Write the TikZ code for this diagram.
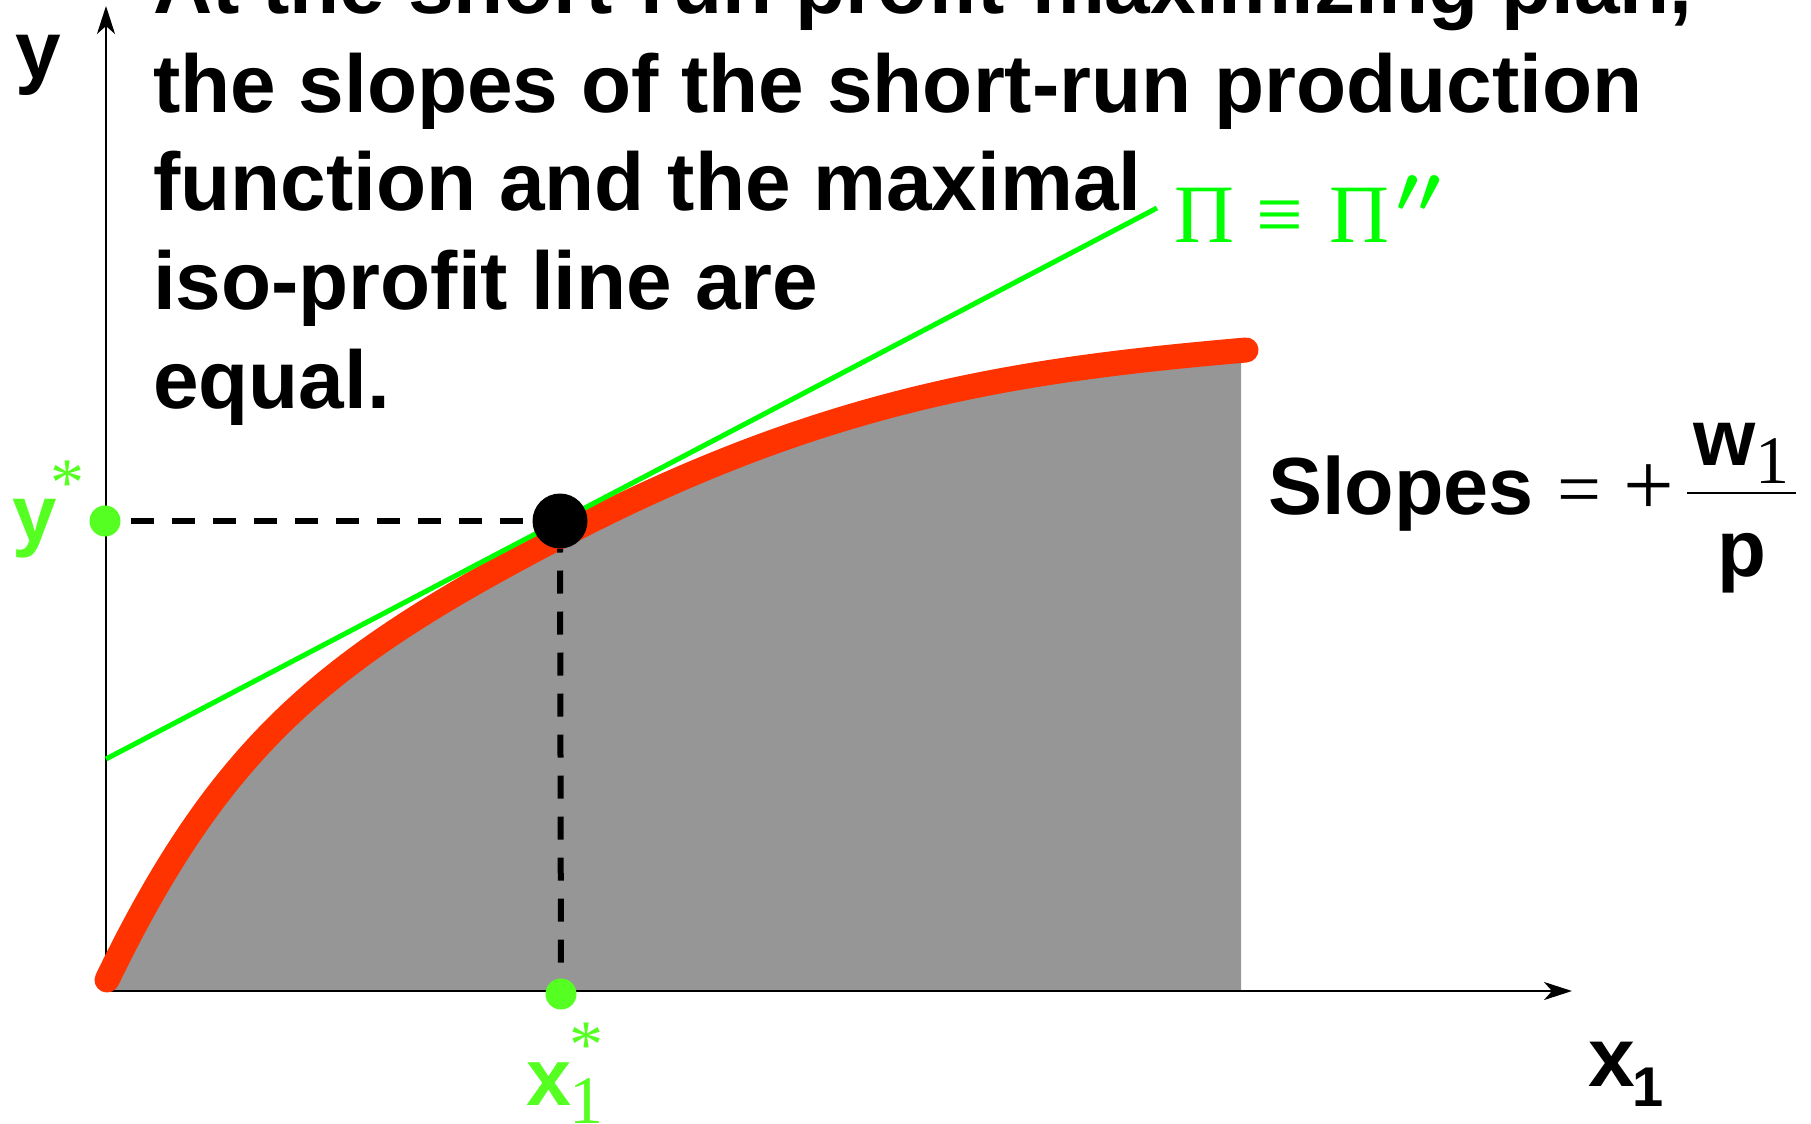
\documentclass[tikz,border=0pt]{standalone}
\usepackage{fix-cm}
\usepackage{fontspec}
\setmainfont{Liberation Sans}
\newfontfamily\serifg{Liberation Serif}
\usetikzlibrary{arrows.meta}
\definecolor{lgreen}{RGB}{0,255,0}
\definecolor{dgreen}{RGB}{85,255,34}
\definecolor{redc}{RGB}{255,51,0}
\definecolor{grayc}{RGB}{150,150,150}
\newcommand{\fsz}[1]{\fontsize{#1}{#1}\selectfont}
\begin{document}
\begin{tikzpicture}[x=0.5pt,y=-0.5pt,
  lbl/.style={inner sep=0pt, outer sep=0pt, anchor=base west},
  body/.style={lbl, font=\fsz{41pt}\bfseries},
  dotblack/.style={circle, fill=black, minimum size=27.5pt, inner sep=0pt},
  dotgreen/.style={circle, fill=dgreen, minimum size=15.5pt, inner sep=0pt},
  axisline/.style={line width=1.25pt, -{Stealth[length=14pt,width=9pt,inset=4pt]}},
  dashln/.style={line width=3pt, dash pattern=on 11.5pt off 9pt},
  prodcurve/.style={line width=12.5pt, color=redc, line cap=round},
  tangent/.style={line width=2.5pt, color=lgreen}]
\useasboundingbox (0,0) rectangle (1811,1124);
% coordinates
\coordinate (O) at (106,991);
\coordinate (xtip) at (1572,991);
\coordinate (ytip) at (106,6);
\coordinate (cs) at (107,980);
\coordinate (ct) at (559,537);
\coordinate (ce) at (1246,350);
\coordinate (gA) at (106,759);
\coordinate (gB) at (1157,208);
% shaded region
\fill[grayc] (107,991) -- (cs) .. controls (222,742) and (329,657) .. (ct)
  .. controls (825,398) and (1016,370) .. (ce) -- (1241,360) -- (1241,991) -- cycle;
% axes
\draw[axisline] (O) -- (xtip);
\draw[axisline] (O) -- (ytip);
% production function
\draw[prodcurve] (cs) .. controls (222,742) and (329,657) .. (ct)
  .. controls (825,398) and (1016,370) .. (ce);
% iso-profit line
\draw[tangent] (gA) -- (gB);
% dots
\node[dotgreen] (ydot) at (105,521) {};
\node[dotgreen] (xdot) at (561,994) {};
\node[dotblack] (bigdot) at (560,521) {};
% dashed guides
\draw[dashln, dash phase=15.5pt] (ydot) -- (bigdot);
\draw[dashln, dash phase=9.7pt] (bigdot) -- (xdot);
% body text
\node[body] (l1) at (153,13) {At the short-run profit-maximizing plan,};
\node[body] (l2) at (153,112) {the slopes of the short-run production};
\node[body] (l3) at (153,210) {function and the maximal};
\node[body] (l4) at (153,309) {iso-profit line are};
\node[body] (l5) at (153,408) {equal.};
% axis labels
\node[body] (ylab) at (16,78) {y};
\node[lbl, font=\fsz{42pt}\bfseries] (xlab) at (1588,1086) {x};
\node[lbl, font=\fsz{28pt}\bfseries] (xlabsub) at (1632,1106) {1};
% iso-profit label
\node[lbl, text=lgreen, font=\fsz{41.5pt}\serifg] (pilab) at (1174,242) {Π\hspace{11.5pt}≡\hspace{13pt}Π};
\node[lbl, text=lgreen, font=\fsz{32pt}\boldmath] (primes) at (1396,211) {$\prime\prime$};
% slopes formula
\node[lbl, font=\fsz{40.5pt}\bfseries] (slopes) at (1268,514) {Slopes};
\node[lbl, font=\fsz{39pt}\serifg] (eq) at (1557,515) {=};
\node[lbl, font=\fsz{45pt}\serifg] (plus) at (1623,515) {+};
\coordinate (fracL) at (1687,493);
\coordinate (fracR) at (1796,493);
\draw[line width=1pt] (fracL) -- (fracR);
\node[lbl, font=\fsz{40pt}\bfseries] (wnum) at (1693,465) {w};
\node[lbl, font=\fsz{34pt}\serifg] (wsub) at (1755,483) {1};
\node[lbl, font=\fsz{40pt}\bfseries] (pden) at (1717,576) {p};
% starred labels
\node[lbl, text=dgreen, font=\fsz{40pt}\bfseries] (ystar) at (12,541) {y};
\node[lbl, text=dgreen, font=\fsz{34pt}\serifg] (ystarst) at (50,505) {*};
\node[lbl, text=dgreen, font=\fsz{40.5pt}\bfseries] (xstar) at (526,1105) {x};
\node[lbl, text=dgreen, font=\fsz{34pt}\serifg] (xstarsub) at (569,1123) {1};
\node[lbl, text=dgreen, font=\fsz{34pt}\serifg] (xstarst) at (569,1067) {*};
\end{tikzpicture}
\end{document}
